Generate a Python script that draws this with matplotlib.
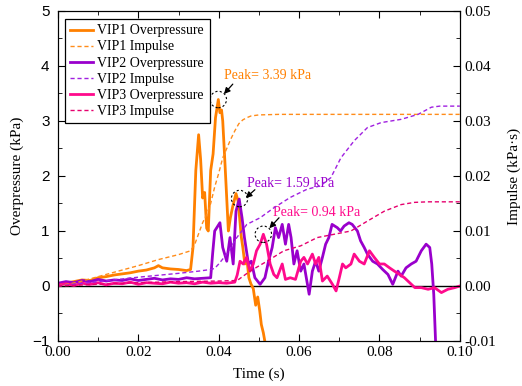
import numpy as np
import matplotlib
matplotlib.use("Agg")
import matplotlib.pyplot as plt
from matplotlib.ticker import MultipleLocator, FormatStrFormatter

plt.rcParams['font.family'] = ['Liberation Serif', 'DejaVu Serif']

# time in ms, overpressure in kPa, impulse in kPa*s
vip1_t = [0, 2, 4, 6, 8, 10, 12, 14, 16, 18, 20, 22, 24, 25, 26, 28, 30, 32, 33,
          33.6, 34.3, 35.0, 35.5, 36.0, 36.5, 37.0, 37.4, 38.0, 38.6, 39.2, 39.9,
          40.3, 40.7, 41.0, 41.4, 41.9, 42.4, 42.9, 43.5, 44.3, 44.8, 45.2, 45.6,
          46.0, 46.5, 47.0, 47.5, 48.0, 48.6, 49.2, 49.7, 50.2, 50.6, 51.1, 51.7]
vip1_p = [0.02, 0.05, 0.08, 0.11, 0.10, 0.15, 0.17, 0.20, 0.22, 0.24, 0.27, 0.29, 0.33,
          0.37, 0.33, 0.31, 0.30, 0.28, 0.30,
          0.70, 2.10, 2.75, 2.30, 1.60, 1.70, 1.05, 1.00, 2.10, 2.40, 3.06, 3.39,
          3.15, 3.20, 3.00, 2.45, 1.73, 1.00, 1.24, 1.45, 1.68, 1.55, 1.24, 0.90,
          0.70, 0.40, 0.50, 0.15, 0.04, -0.05, -0.35, -0.20, -0.45, -0.70, -0.85, -1.10]

vip2_t = [0, 2, 4, 6, 8, 10, 12, 14, 16, 18, 20, 22, 24, 26, 28, 30, 32, 34, 36, 38,
          38.5, 39.0, 40.3, 41.0, 42.0, 42.8, 43.6, 44.3, 45.1, 45.8, 46.4, 47.4,
          48.1, 49.0, 50.3, 51.5, 52.4, 53.3, 54.1, 54.9, 55.8, 56.6, 57.4, 58.0,
          58.7, 59.5, 60.4, 61.2, 62.5, 63.3, 64.1, 64.9, 65.8, 66.6, 67.4, 68.2,
          69.5, 70.3, 71.2, 72.4, 73.2, 74.5, 75.3, 76.2, 77.0, 78.3, 79.5, 80.8,
          82.1, 83.3, 84.6, 85.4, 86.6, 87.9, 89.1, 90.4, 91.6, 92.5, 93.0, 93.5, 94.0]
vip2_p = [0.05, 0.08, 0.06, 0.10, 0.08, 0.12, 0.09, 0.11, 0.10, 0.13, 0.10, 0.12,
          0.14, 0.11, 0.13, 0.12, 0.15, 0.13, 0.14, 0.15,
          0.60, 1.00, 1.15, 0.70, 0.45, 0.88, 0.40, 1.36, 1.58, 1.24, 0.88, 0.40,
          0.45, 0.15, 0.03, 0.15, 0.45, 0.70, 1.06, 0.88, 1.12, 0.76, 1.12, 0.88,
          0.40, 0.64, 0.27, 0.40, -0.15, 0.27, 0.45, 0.27, 0.52, 0.76, 0.88, 1.12,
          1.06, 1.00, 1.09, 1.15, 1.12, 1.00, 0.82, 0.70, 0.58, 0.45, 0.40, 0.30,
          0.21, 0.03, 0.27, 0.18, 0.33, 0.40, 0.45, 0.64, 0.76, 0.70, 0.40, -0.15, -1.10]

vip3_t = [0, 2, 4, 6, 8, 10, 12, 14, 16, 18, 20, 22, 24, 26, 28, 30, 32, 34, 36, 38,
          40, 42, 44, 44.6, 45.3, 46.1, 46.9, 47.8, 48.6, 49.4, 50.3, 51.1, 51.9,
          52.8, 53.7, 54.5, 55.8, 56.6, 57.8, 59.1, 60.4, 61.2, 62.1, 63.3, 64.1,
          64.9, 65.8, 67.0, 68.3, 69.2, 70.0, 70.8, 71.6, 72.9, 73.7, 75.0, 76.2,
          77.5, 78.7, 80.0, 81.2, 82.5, 83.7, 85.0, 86.2, 87.5, 88.8, 90.4, 92.1,
          93.7, 95.4, 97.0, 98.7, 100.0]
vip3_p = [0.02, 0.04, 0.01, 0.05, 0.03, 0.06, 0.02, 0.05, 0.04, 0.07, 0.03, 0.06,
          0.05, 0.04, 0.07, 0.05, 0.06, 0.04, 0.07, 0.05, 0.06, 0.05, 0.07,
          0.20, 0.45, 0.40, 0.52, 0.27, 0.40, 0.64, 0.76, 0.94, 0.76, 0.40, 0.21,
          0.15, 0.40, 0.12, 0.15, 0.12, 0.45, 0.52, 0.40, 0.58, 0.40, 0.52, 0.09,
          0.18, 0.03, -0.09, 0.15, 0.40, 0.33, 0.40, 0.58, 0.45, 0.40, 0.64, 0.52,
          0.40, 0.40, 0.33, 0.27, 0.21, 0.15, 0.06, -0.03, -0.03, -0.06, -0.03,
          -0.12, -0.06, -0.03, 0.00]

imp1_t = [0, 5, 10, 15, 20, 25, 30, 33, 34, 35, 36, 37, 38, 39, 40, 41, 42, 43, 44,
          45, 46, 47, 48, 50, 55, 100]
imp1_i = [0, 0.0007, 0.0017, 0.0027, 0.0037, 0.0048, 0.0057, 0.0064, 0.0075, 0.0095,
          0.0115, 0.0130, 0.0150, 0.0180, 0.0205, 0.0233, 0.0250, 0.0267, 0.0282,
          0.0295, 0.0302, 0.0306, 0.0309, 0.0311, 0.0312, 0.0312]

imp2_t = [0, 10, 20, 30, 35, 38, 39, 40, 42, 44.5, 47, 50.3, 53.7, 57.8, 62, 65.3,
          67.9, 70.4, 73.7, 77, 80.4, 85.4, 89.6, 92.9, 95, 100]
imp2_i = [0, 0.0008, 0.0016, 0.0023, 0.0027, 0.0030, 0.0032, 0.0040, 0.0058, 0.0088,
          0.0112, 0.0124, 0.0142, 0.0161, 0.0176, 0.0182, 0.0197, 0.0233, 0.0264,
          0.0288, 0.0297, 0.0303, 0.0312, 0.0325, 0.0327, 0.0327]

imp3_t = [0, 10, 20, 30, 40, 44.6, 47.8, 52, 56.2, 60.4, 64.5, 68.7, 72.9, 77, 81.2,
          85.4, 88.7, 92, 100]
imp3_i = [0, 0.0003, 0.0006, 0.0008, 0.0009, 0.0010, 0.0027, 0.0045, 0.0064, 0.0073,
          0.0088, 0.0094, 0.0100, 0.0118, 0.0136, 0.0148, 0.0152, 0.0153, 0.0153]

peaks = [3.39, 1.59, 0.94]
peak_t = [39.9, 45.2, 51.1]

c1, c2, c3 = '#FF8000', '#9900CC', '#FF0A8C'
c1d, c2d, c3d = '#FF8C1A', '#A020E0', '#E6006E'

fig = plt.figure(figsize=(5.22, 3.86), dpi=100)
ax = fig.add_axes([0.111, 0.1166, 0.77, 0.855])
ax2 = ax.twinx()

ax.axhline(0, color='k', lw=1.0, zorder=1)
l1, = ax.plot(np.array(vip1_t) / 1000, vip1_p, color=c1, lw=2.0, label='VIP1 Overpressure', zorder=2)
l3, = ax.plot(np.array(vip2_t) / 1000, vip2_p, color=c2, lw=2.0, label='VIP2 Overpressure', zorder=2)
l5, = ax.plot(np.array(vip3_t) / 1000, vip3_p, color=c3, lw=2.0, label='VIP3 Overpressure', zorder=2)

l2, = ax2.plot(np.array(imp1_t) / 1000, imp1_i, color=c1d, lw=1.0, ls=(0, (3, 2)), label='VIP1 Impulse')
l4, = ax2.plot(np.array(imp2_t) / 1000, imp2_i, color=c2d, lw=1.0, ls=(0, (3, 2)), label='VIP2 Impulse')
l6, = ax2.plot(np.array(imp3_t) / 1000, imp3_i, color=c3d, lw=1.0, ls=(0, (3, 2)), label='VIP3 Impulse')

ax.set_xlim(0, 0.1)
ax.set_ylim(-1, 5)
ax2.set_ylim(-0.01, 0.05)

ax.xaxis.set_major_locator(MultipleLocator(0.02))
ax.xaxis.set_minor_locator(MultipleLocator(0.01))
ax.xaxis.set_major_formatter(FormatStrFormatter('%.2f'))
ax.yaxis.set_major_locator(MultipleLocator(1))
ax.yaxis.set_minor_locator(MultipleLocator(0.5))
ax2.yaxis.set_major_locator(MultipleLocator(0.01))
ax2.yaxis.set_minor_locator(MultipleLocator(0.005))
ax2.yaxis.set_major_formatter(FormatStrFormatter('%.2f'))

ax.tick_params(which='both', direction='in', top=True, labelsize=11)
ax.tick_params(which='major', length=5)
ax.tick_params(which='minor', length=3)
ax.tick_params(axis='y', pad=6)
ax2.tick_params(which='both', direction='in', labelsize=11)
ax2.tick_params(which='major', length=5)
ax2.tick_params(which='minor', length=3)
for lab in ax.get_yticklabels():
    lab.set_fontfamily('Liberation Sans')

ax.set_xlabel('Time (s)', fontsize=11, labelpad=6)
ax.set_ylabel('Overpressure (kPa)', fontsize=11, labelpad=6)
ax2.set_ylabel('Impulse (kPa·s)', fontsize=11, labelpad=8)

# peak markers
cols = [c1, c2, c3]
txt_pos = [(41.2, 3.82), (47.0, 1.87), (53.5, 1.33)]
arr_tail = [(43.5, 3.67), (49.0, 1.75), (55.0, 1.24)]
arr_head = [(41.3, 3.49), (46.7, 1.60), (52.6, 1.05)]
for i in range(3):
    ax.scatter(peak_t[i] / 1000, peaks[i], s=140, facecolors='none', edgecolors='k',
               linewidths=0.8, linestyles=(0, (2, 2)), zorder=5)
    ax.text(txt_pos[i][0] / 1000, txt_pos[i][1], 'Peak= %.2f kPa' % peaks[i],
            color=cols[i], fontsize=10, va='center', ha='left', zorder=6)
    ax.annotate('', xy=(arr_head[i][0] / 1000, arr_head[i][1]),
                xytext=(arr_tail[i][0] / 1000, arr_tail[i][1]),
                arrowprops=dict(arrowstyle='-|>', color='k', lw=0.9,
                                mutation_scale=9, shrinkA=0, shrinkB=0), zorder=6)

leg = ax2.legend([l1, l2, l3, l4, l5, l6],
                 [h.get_label() for h in [l1, l2, l3, l4, l5, l6]],
                 loc='upper left', bbox_to_anchor=(0.017, 0.976), borderaxespad=0,
                 fontsize=10, fancybox=False, framealpha=1, edgecolor='k',
                 labelspacing=0.22, handlelength=1.6, handletextpad=0.35, borderpad=0.4)
leg.get_frame().set_linewidth(0.9)

fig.savefig('out.png', dpi=100)
